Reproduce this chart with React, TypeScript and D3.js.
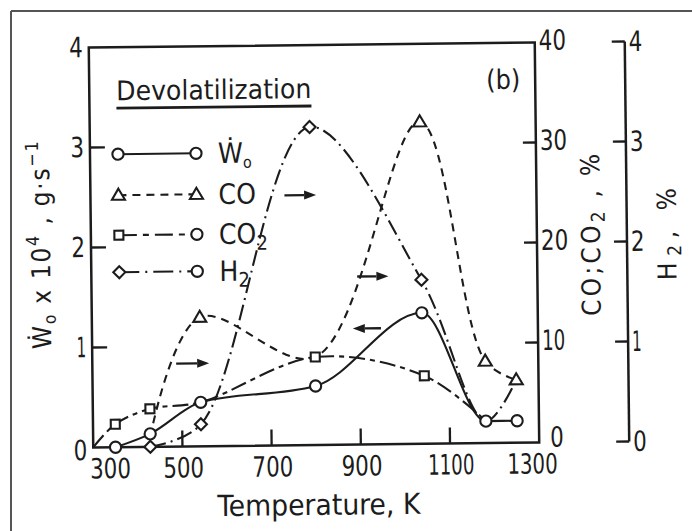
import React from "react";
import * as d3 from "d3";

// ---------- data ----------
const woTemps = [350, 428, 542, 800, 1040, 1181, 1251];
const woValues = [0, 0.13, 0.44, 0.59, 1.31, 0.22, 0.22]; // g/s x 1e4
const woShow = [true, true, true, true, true, true, true];

const coTemps = [428, 542, 800, 1040, 1181, 1250];
const coValues = [1.0, 12.9, 8.8, 32.2, 8.2, 6.3]; // %
const coShow = [false, true, false, true, true, true];

const co2Temps = [300, 350, 428, 542, 800, 1044, 1181];
const co2Values = [0, 2.3, 3.8, 4.4, 8.8, 6.8, 2.2]; // %
const co2Show = [false, true, true, false, true, true, false];

const h2Temps = [428, 542, 793, 1040, 1181, 1250];
const h2Values = [0, 0.22, 3.18, 1.64, 0.22, 0.63]; // %
const h2Show = [true, true, true, true, false, false];

const xTicks = [300, 500, 700, 900, 1100, 1300];
const leftTicks = [0, 1, 2, 3, 4];
const coTicks = [0, 10, 20, 30, 40];
const h2Ticks = [0, 1, 2, 3, 4];

// arrows: [tStart, tEnd, level on left axis]
const arrows = [
  [735, 806, 2.5],
  [488, 562, 0.83],
  [896, 966, 1.68],
  [948, 885, 1.16],
];

const W = 692;
const H = 531;
const FONT = "'DejaVu Sans Condensed', 'DejaVu Sans', sans-serif";
const INK = "#1c1c1c";

const L = 91, R = 537, T = 45, B = 445;
const H2X = 627;

const x = d3.scaleLinear().domain([300, 1300]).range([L, R]);
const yL = d3.scaleLinear().domain([0, 4]).range([B, T]);
const yC = d3.scaleLinear().domain([0, 40]).range([B, T]);
const yH = d3.scaleLinear().domain([0, 4]).range([B, T]);

type P = { t: number; v: number };
const zip = (ts: number[], vs: number[]): P[] => ts.map((t, i) => ({ t, v: vs[i] }));

const lineFor = (y: d3.ScaleLinear<number, number>, curve: d3.CurveFactory) =>
  d3.line<P>().x((d) => x(d.t)).y((d) => y(d.v)).curve(curve);

const SW = 2.1;
const numW = (s: string) => s.split("").reduce((a, c) => a + (c === "1" ? 9.5 : 13.6), 0);

function Circle({ cx, cy }: { cx: number; cy: number }) {
  return <circle cx={cx} cy={cy} r={5.6} fill="#fff" stroke={INK} strokeWidth={SW} />;
}
function Tri({ cx, cy }: { cx: number; cy: number }) {
  const s = 6.5;
  return (
    <path
      d={`M${cx},${cy - s}L${cx + s},${cy + s * 0.7}L${cx - s},${cy + s * 0.7}Z`}
      fill="#fff"
      stroke={INK}
      strokeWidth={SW}
    />
  );
}
function Sq({ cx, cy }: { cx: number; cy: number }) {
  return <rect x={cx - 4.5} y={cy - 4.5} width={9} height={9} fill="#fff" stroke={INK} strokeWidth={SW} />;
}
function Dia({ cx, cy }: { cx: number; cy: number }) {
  const s = 6;
  return (
    <path d={`M${cx},${cy - s}L${cx + s},${cy}L${cx},${cy + s}L${cx - s},${cy}Z`} fill="#fff" stroke={INK} strokeWidth={SW} />
  );
}

const cr = d3.curveCatmullRom.alpha(0.5);
const series = [
  { data: zip(woTemps, woValues), show: woShow, y: yL, dash: "none", M: Circle, curve: d3.curveMonotoneX },
  { data: zip(co2Temps, co2Values), show: co2Show, y: yC, dash: "16,5,5,5", M: Sq, curve: cr },
  { data: zip(h2Temps, h2Values), show: h2Show, y: yH, dash: "16,5,2,5", M: Dia, curve: cr },
  { data: zip(coTemps, coValues), show: coShow, y: yC, dash: "8,6", M: Tri, curve: cr },
];

const legend = [
  { label: "W", sub: "o", dot: true, dash: "none", ML: Circle, MR: Circle },
  { label: "CO", sub: "", dot: false, dash: "8,6", ML: Tri, MR: Tri },
  { label: "CO", sub: "2", dot: false, dash: "18,6,6,6", ML: Sq, MR: Circle },
  { label: "H", sub: "2", dot: false, dash: "20,6,2,6", ML: Dia, MR: Circle },
];

export default function App() {
  const legY = [152, 193, 233, 270];
  return (
    <svg width={W} height={H} style={{ position: "absolute", left: 0, top: 0, background: "#fff" }}>
      <rect width={W} height={H} fill="#fff" />
      {/* scan border */}
      <line x1={11} y1={11} x2={W} y2={11} stroke="#555" strokeWidth={2} />
      <line x1={11} y1={11} x2={11} y2={H} stroke="#555" strokeWidth={2} />

      <g transform="rotate(-0.64 314 245)" fontFamily={FONT} fill={INK}>
        {/* frame */}
        <path d={`M${L},${T}L${R},${T}L${R},${B}L${L},${B}Z`} fill="none" stroke={INK} strokeWidth={2.5} />
        <line x1={H2X} y1={yH(0)} x2={H2X} y2={yH(4)} stroke={INK} strokeWidth={2.5} />

        {/* ticks */}
        {leftTicks.slice(1, 4).map((v) => (
          <line key={"lt" + v} x1={L} x2={L + 15} y1={yL(v)} y2={yL(v)} stroke={INK} strokeWidth={2.3} />
        ))}
        {xTicks.slice(1, 5).map((t) => (
          <line key={"xt" + t} x1={x(t)} x2={x(t)} y1={B} y2={B - 16} stroke={INK} strokeWidth={2.3} />
        ))}
        {coTicks.slice(1, 4).map((v) => (
          <line key={"ct" + v} x1={R - 13} x2={R} y1={yC(v)} y2={yC(v)} stroke={INK} strokeWidth={2.3} />
        ))}
        {h2Ticks.map((v) => (
          <line key={"ht" + v} x1={H2X - 13} x2={H2X} y1={yH(v)} y2={yH(v)} stroke={INK} strokeWidth={2.3} />
        ))}

        {/* tick labels */}
        {leftTicks.map((v) => (
          <text
            key={"ll" + v}
            x={L - 6}
            y={yL(v) + (v === 0 ? 3 : 0)}
            textAnchor="end"
            dominantBaseline="central"
            fontSize={28}
            textLength={numW(String(v))}
            lengthAdjust="spacingAndGlyphs"
          >
            {v}
          </text>
        ))}
        {xTicks.map((t, i) => (
          <text
            key={"xl" + t}
            x={x(t) + (i === 0 ? 17 : i === xTicks.length - 1 ? -7 : 1)}
            y={B + 31}
            textAnchor="middle"
            fontSize={28}
            textLength={numW(String(t))}
            lengthAdjust="spacingAndGlyphs"
          >
            {t}
          </text>
        ))}
        {coTicks.map((v) => (
          <text
            key={"cl" + v}
            x={R + (v === 0 ? 11 : 4)}
            y={yC(v) - (v === 0 ? 5 : 2)}
            dominantBaseline="central"
            fontSize={28}
            textLength={numW(String(v))}
            lengthAdjust="spacingAndGlyphs"
          >
            {v}
          </text>
        ))}
        {h2Ticks.map((v) => (
          <text
            key={"hl" + v}
            x={H2X + 4}
            y={yH(v)}
            dominantBaseline="central"
            fontSize={28}
            textLength={numW(String(v))}
            lengthAdjust="spacingAndGlyphs"
          >
            {v}
          </text>
        ))}

        {/* series lines */}
        {series.map((s, i) => (
          <path
            key={"s" + i}
            d={lineFor(s.y, s.curve)(s.data) || ""}
            fill="none"
            stroke={INK}
            strokeWidth={SW}
            strokeDasharray={s.dash}
          />
        ))}
        {/* markers */}
        {series.map((s, i) =>
          s.data.map((d, j) => (s.show[j] ? <s.M key={`m${i}-${j}`} cx={x(d.t)} cy={s.y(d.v)} /> : null))
        )}

        {/* arrows */}
        {arrows.map(([t0, t1, v], i) => {
          const x0 = x(t0), x1 = x(t1), yy = yL(v);
          const dir = Math.sign(x1 - x0);
          const hx = x1 - dir * 12;
          return (
            <g key={"a" + i}>
              <line x1={x0} x2={hx} y1={yy} y2={yy} stroke={INK} strokeWidth={2.3} />
              <path d={`M${x1},${yy}L${hx},${yy - 4.5}L${hx},${yy + 4.5}Z`} fill={INK} />
            </g>
          );
        })}

        {/* title */}
        <text x={118} y={98} fontSize={27} textLength={195} lengthAdjust="spacingAndGlyphs">
          Devolatilization
        </text>
        <line x1={118} x2={313} y1={106} y2={106} stroke={INK} strokeWidth={2.8} />
        <text x={488} y={91} fontSize={27} textLength={34} lengthAdjust="spacingAndGlyphs">
          (b)
        </text>

        {/* legend */}
        {legend.map((l, i) => {
          const yy = legY[i];
          return (
            <g key={"lg" + i}>
              <line x1={119} x2={197} y1={yy} y2={yy} stroke={INK} strokeWidth={SW} strokeDasharray={l.dash} />
              <l.ML cx={119} cy={yy} />
              <l.MR cx={197} cy={yy} />
              <text x={219} y={yy + 10} fontSize={28}>
                {l.dot ? "\u1E86" : l.label}
                {l.sub ? (
                  <tspan fontSize={l.dot ? 16 : 20} dy={l.dot ? 5 : 6}>
                    {l.sub}
                  </tspan>
                ) : null}
              </text>
            </g>
          );
        })}

        {/* axis titles */}
        <text transform="rotate(-90 50 242)" x={50} y={242} textAnchor="middle" fontSize={26} textLength={208}>
          {"\u1E86"}
          <tspan fontSize={17} dy={5}>o</tspan>
          <tspan dy={-5}> x 10</tspan>
          <tspan fontSize={18} dy={-11}>4</tspan>
          <tspan dy={11}> , g·s</tspan>
          <tspan fontSize={18} dy={-11}>−1</tspan>
        </text>
        <text x={316} y={515} textAnchor="middle" fontSize={29} textLength={203} lengthAdjust="spacingAndGlyphs">
          Temperature, K
        </text>
        <text transform="rotate(-90 600 238)" x={600} y={238} textAnchor="middle" fontSize={26} textLength={162}>
          CO;CO<tspan fontSize={19} dy={5}>2</tspan>
          <tspan dy={-5}> , %</tspan>
        </text>
        <text transform="rotate(-90 676 238)" x={676} y={238} textAnchor="middle" fontSize={26} textLength={92}>
          H<tspan fontSize={19} dy={5}>2</tspan>
          <tspan dy={-5}>, %</tspan>
        </text>
      </g>
    </svg>
  );
}
